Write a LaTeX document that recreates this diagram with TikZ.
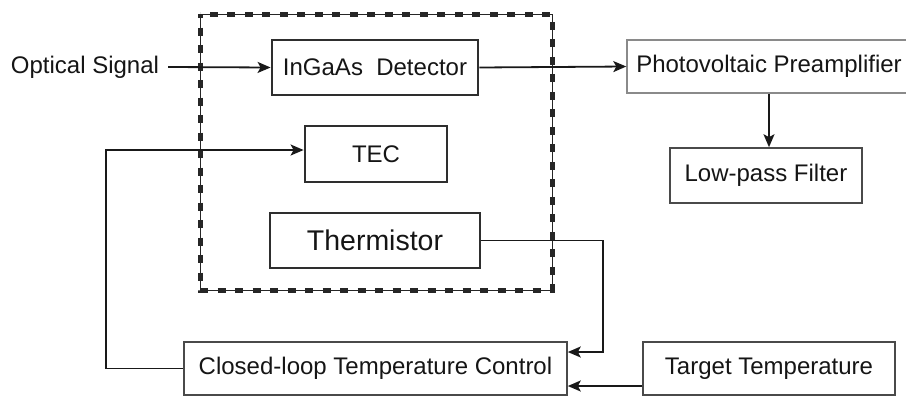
\documentclass[tikz,border=0pt]{standalone}
\usepackage{fontspec}
\setmainfont{Liberation Sans}
\usetikzlibrary{arrows.meta,calc}
\definecolor{txt}{HTML}{151515}
\definecolor{bdark}{HTML}{2E2E2E}
\definecolor{bmid}{HTML}{4A4A4A}
\definecolor{blight}{HTML}{8A8A8A}
\tikzset{
  lbl/.style={font=\fontsize{24}{28}\selectfont, text=txt, inner sep=0pt},
  mainbox/.style={lbl, draw=bdark, line width=2.8pt},
  subbox/.style={lbl, draw=bmid, line width=1.6pt},
  litebox/.style={lbl, draw=blight, line width=1.4pt},
  conn/.style={draw=black!90, line width=1.8pt},
  arr/.style={conn, -{Stealth[length=13pt,width=11pt,inset=3pt]}},
}
\begin{document}
\begin{tikzpicture}[x=1pt,y=-1pt]
\useasboundingbox (0,0) rectangle (906,397);
\begin{scope}
\clip (0,0) rectangle (906,397);
% dashed enclosure
\draw[black!85, line width=1pt] (200,14) rectangle (552,290);
\draw[black!85, line width=5pt, dash pattern=on 8pt off 9.5pt, dash phase=4pt] (200,14) rectangle (552,290);
% nodes
\node[lbl, inner xsep=9pt, inner ysep=4pt] (os) at (85,67) {Optical Signal};
\node[mainbox, minimum width=206, minimum height=55] (det) at (375,67.5) {InGaAs\ \ Detector};
\node[mainbox, minimum width=142, minimum height=56] (tec) at (376,154) {TEC};
\node[mainbox, minimum width=210, minimum height=55, font=\fontsize{28.5}{32}\selectfont] (therm) at (375,240.5) {Thermistor};
\node[litebox, minimum width=284, minimum height=53] (pre) at (769,66.5) {Photovoltaic Preamplifier};
\node[subbox, minimum width=192, minimum height=55] (lpf) at (766,175.5) {Low-pass Filter};
\node[subbox, minimum width=383, minimum height=53] (cltc) at (375.5,368.5) {Closed-loop Temperature Control};
\node[subbox, minimum width=252, minimum height=53] (target) at (769,368.5) {Target Temperature};
% helper coordinates
\coordinate (tecin) at ($(tec.west)+(0,-4)$);
\coordinate (fbcorner) at (106,150);
\coordinate (thc) at (603,352);
\coordinate (tgin) at (643,386);
% connectors
\draw[arr] (os.east) -- (det.west);
\draw[arr] (det.east) -- (pre.west);
\draw[arr] (pre.south -| lpf.north) ++(3,0) coordinate (pd) (pd) -- (pd |- lpf.north);
\draw[arr] (cltc.west) -| (fbcorner) -- (tecin);
\draw[arr] (therm.east) -| (thc) -- (cltc.east |- thc);
\draw[arr] (target.west |- tgin) -- (cltc.east |- tgin);
\end{scope}
\end{tikzpicture}
\end{document}
